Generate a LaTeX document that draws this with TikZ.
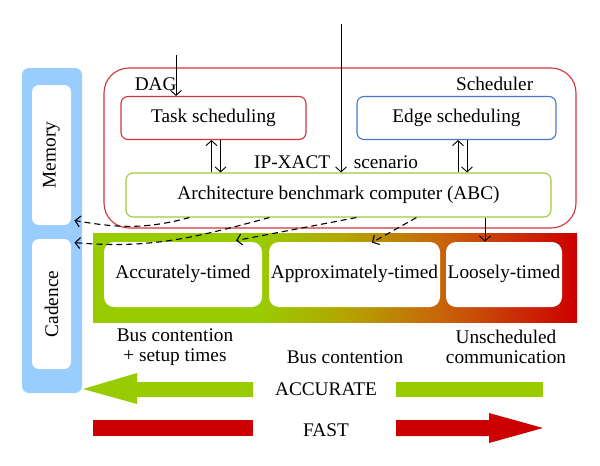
\documentclass[tikz,border=0pt]{standalone}
\usepackage{fontspec}
\setmainfont{Liberation Serif}
\usetikzlibrary{arrows.meta,calc}
\definecolor{accgreen}{RGB}{153,204,0}
\definecolor{fastred}{RGB}{204,0,0}
\definecolor{barolive}{RGB}{180,165,0}
\definecolor{barorange}{RGB}{200,100,10}
\definecolor{memblue}{RGB}{153,204,255}
\definecolor{schedred}{RGB}{210,50,60}
\definecolor{edgeblue}{RGB}{70,120,200}
\definecolor{abcgreen}{RGB}{160,200,60}
\pgfdeclarehorizontalshading{speedbar}{100bp}{color(0bp)=(accgreen); color(25bp)=(accgreen); color(42bp)=(accgreen); color(51bp)=(barolive); color(61bp)=(barorange); color(75bp)=(fastred); color(100bp)=(fastred)}
\tikzset{
  every node/.style={font=\fontsize{19.3}{20}\selectfont},
  schedbox/.style={draw, line width=1.1pt, rounded corners=7pt, inner sep=0pt, minimum height=43pt},
  timebox/.style={fill=white, rounded corners=10pt, inner sep=0pt, minimum height=65pt, text height=12pt, text depth=5pt},
  membox/.style={fill=white, rounded corners=7pt, inner sep=0pt, minimum width=39pt},
  dasharrow/.style={->, line width=1.1pt, dash pattern=on 6pt off 4pt}
}
\begin{document}
\begin{tikzpicture}[x=1pt,y=-1pt,>={Straight Barb[length=5pt,width=11pt]},line width=0.9pt]
    \useasboundingbox (0,0) rectangle (600,466);
    % memory / cadence column
    \fill[memblue, rounded corners=7pt] (22,68) rectangle (82,393);
    \node[membox, minimum height=140pt] (memory) at (51.5,155) {\rotatebox{90}{Memory}};
    \node[membox, minimum height=130pt] (cadence) at (51.5,304) {\rotatebox{90}{Cadence}};
    % scheduler
    \node[draw=schedred, line width=1.1pt, rounded corners=25pt, minimum width=472pt, minimum height=160pt] (sched) at (340,148) {};
    \node[anchor=base east] (schedlbl) at (537,90) {Scheduler};
    \node[schedbox, draw=schedred, minimum width=185pt] (task) at (213.5,118) {Task scheduling};
    \node[schedbox, draw=edgeblue, minimum width=199pt] (edge) at (456.5,118) {Edge scheduling};
    \node[schedbox, draw=abcgreen, minimum width=425pt, minimum height=44pt] (abc) at (338.5,195) {Architecture benchmark computer (ABC)};
    \node[anchor=base west] (dag) at (131,90) {DAG};
    \node[anchor=base east] (ipxact) at (334,168) {IP-XACT};
    \node[anchor=base west] (scen) at (350,168) {scenario};
    \coordinate (dagin) at (176,55);
    \coordinate (ipin) at (341,24);
    \draw[->] (dagin) -- (dagin |- task.north);
    \draw[->] (ipin) -- (ipin |- abc.north);
    \draw[->] ($(task.south |- abc.north)+(-2,0)$) -- ($(task.south)+(-2,0)$);
    \draw[->] ($(task.south)+(7,0)$) -- ($(task.south |- abc.north)+(7,0)$);
    \draw[->] ($(edge.south |- abc.north)+(1.5,0)$) -- ($(edge.south)+(1.5,0)$);
    \draw[->] ($(edge.south)+(10.5,0)$) -- ($(edge.south |- abc.north)+(10.5,0)$);
    % timing levels
    \shade[shading=speedbar] (93,233) rectangle (577,322);
    \node[timebox, minimum width=158pt] (acc) at (183,274.5) {Accurately-timed};
    \node[timebox, minimum width=171pt] (approx) at (354.5,274.5) {Approximately-timed};
    \node[timebox, minimum width=116pt] (loose) at (504,274.5) {Loosely-timed};
    \draw[->] ($(loose.north |- abc.south)+(-19,0)$) -- ($(loose.north)+(-19,0)$);
    \draw[dasharrow] ($(abc.south west)+(64,0)$) to[out=195,in=-10] ($(memory.south east)+(3,-5)$);
    \draw[dasharrow] ($(abc.south west)+(144,0)$) to[out=195,in=-5] ($(cadence.north east)+(3,4)$);
    \draw[dasharrow] ($(abc.south west)+(231,0)$) -- ($(acc.north)+(53,-1)$);
    \draw[dasharrow] ($(abc.south west)+(291,0)$) -- ($(approx.north)+(17.5,1)$);
    \node[align=center] (busset) at (175,347) {Bus contention\\+ setup times};
    \node (bus) at (345,357) {Bus contention};
    \node[align=center] (unsched) at (506,347) {Unscheduled\\communication};
    % accurate / fast
    \node (accurate) at (326,389) {ACCURATE};
    \node (fast) at (326,430) {FAST};
    \fill[accgreen] (83,389) -- (137,373) -- (137,382) -- (253,382) -- (253,397) -- (137,397) -- (137,404) -- cycle;
    \fill[accgreen] (396,382) rectangle (543,397);
    \fill[fastred] (93,420) rectangle (253,436);
    \fill[fastred] (396,420) -- (489,420) -- (489,413) -- (543,428) -- (489,443) -- (489,436) -- (396,436) -- cycle;
\end{tikzpicture}
\end{document}
